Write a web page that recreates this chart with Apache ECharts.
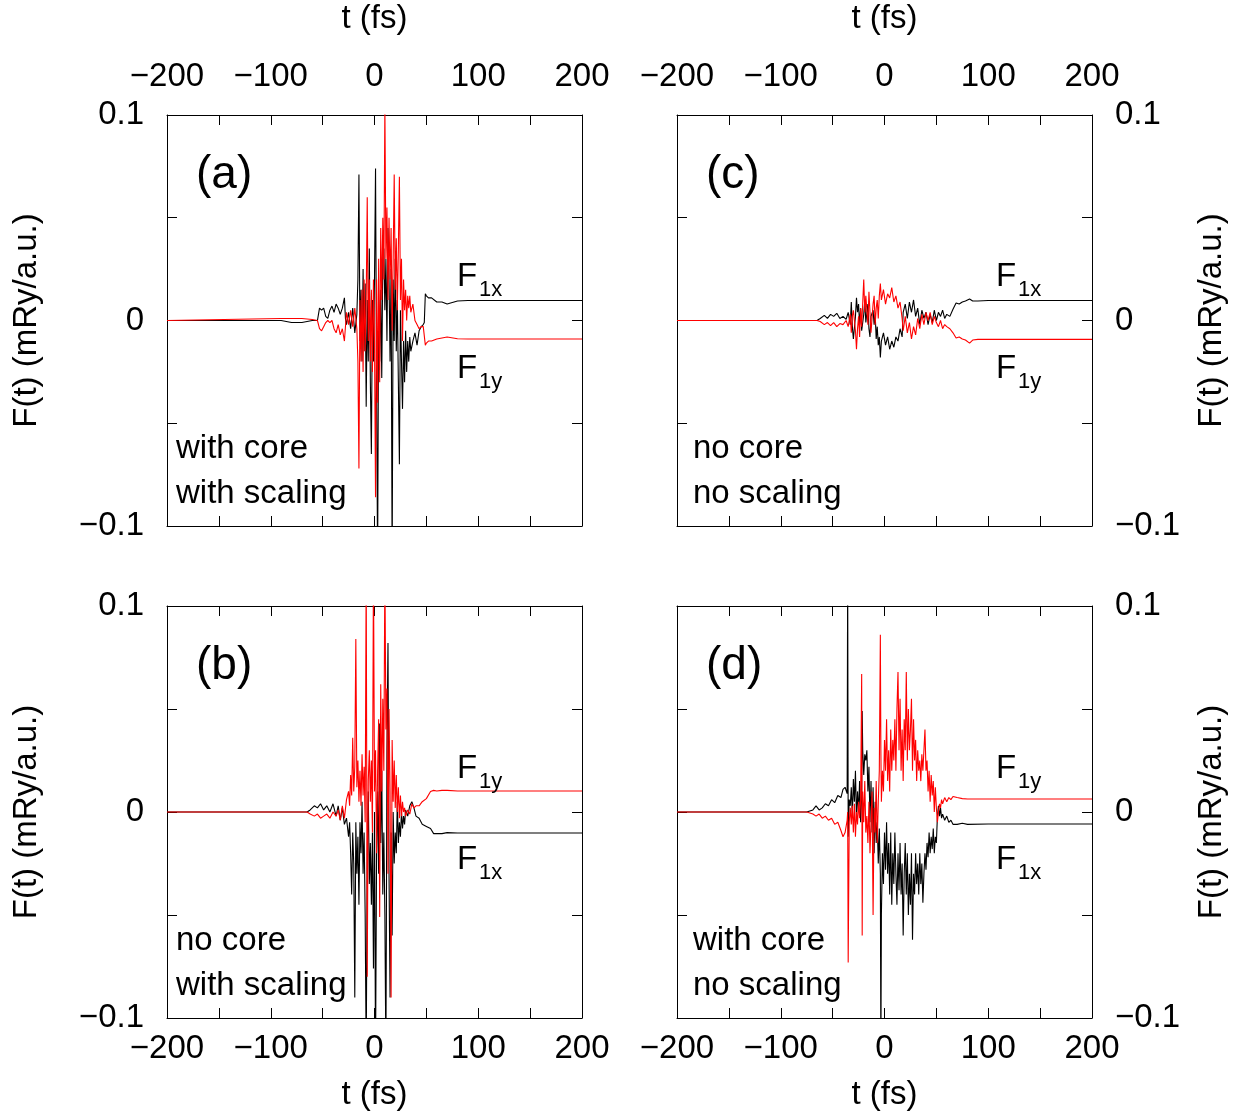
<!DOCTYPE html>
<html>
<head>
<meta charset="utf-8">
<script src="https://cdn.jsdelivr.net/npm/echarts@6/dist/echarts.min.js"></script>
<style>
html,body{margin:0;padding:0;background:#fff;}
#chart{width:1242px;height:1116px;}
</style>
</head>
<body>
<div id="chart"></div>
<script>
// ---------------- data (t in fs, F in mRy/a.u.) ----------------
const xTicks = [-200, -100, 0, 100, 200];
const yTicks = [-0.1, 0, 0.1];

// panel (a): with core, with scaling
const tA = [-200,-90,-80,-70,-60,-55,-53,-51,-49,-47,-45,-43,-41,-39,-37,-35,-33,-31,-29,-28,-27,-25,-23,-21,-19,-17,-16,-15,-14,-13,-12,-11,-10,-9,-8,-7,-6,-5,-4,-3,-2,-1,0,1,2,3,4,5,6,7,8,9,10,11,12,13,14,15,16,17,18,19,20,21,22,23,24,25,26,27,28,29,30,31,32,33,34,35,37,39,41,43,45,47,48,49,50,52,55,60,65,70,80,90,100,150,200];
const aF1x = [0,0,-0.001,-0.001,0, 0,0.006,0.005,0.006,0.002, 0.001,0.005,0.007,0.004,0.008, 0.006,0.003,0.006,0.011,0.001, -0.002,0.004,-0.004,0.006,-0.006, 0.003,0.02,0.071,-0.01,0.015, -0.02,0.025,-0.015,0.018,-0.042, 0.01,-0.02,0.035,-0.03,-0.065, 0.01,-0.02,0.02,0.074,-0.03, -0.12,0.01,-0.02,0.015,-0.028, 0.03,0.035,0.005,0.03,-0.01, 0.045,0.02,-0.02,0.025,-0.12, 0.02,-0.01,0.03,-0.015,0.01, -0.03,-0.07,0.005,-0.02,-0.043, -0.01,-0.03,-0.005,-0.025,-0.01, -0.02,-0.008,-0.015,-0.01,-0.006, -0.012,-0.005,-0.003,-0.002,-0.001, 0.013,0.012,0.011,0.011,0.009, 0.009,0.008,0.0095,0.0097,0.0097, 0.0097,0.0097];
const aF1y = [0,0.001,0.001,0.001,0.0005, 0,-0.004,-0.005,-0.003,-0.001, 0,-0.001,0,-0.004,-0.006, -0.002,-0.007,-0.004,-0.01,-0.003, 0.004,-0.002,0.005,-0.003,0.006, -0.004,-0.02,-0.072,0.01,-0.02, 0.015,-0.025,0.02,-0.015,0.01, 0.06,-0.01,0.02,-0.02,0.015, -0.025,0.02,-0.01,-0.086,0.02, -0.04,0.03,-0.03,0.045,0.01, 0.05,0.02,0.105,0.03,0.055, 0.01,0.05,0.02,0.045,-0.005, 0.03,0.071,0.015,0.04,0.005, 0.035,0.07,0.01,0.03,-0.01, 0.02,0.005,0.015,0,0.012, 0.006,0.012,0.004,0.008,0, -0.002,-0.004,-0.003,-0.003,-0.003, -0.012,-0.011,-0.01,-0.01,-0.009, -0.0085,-0.008,-0.0089,-0.009,-0.009, -0.009,-0.009];

// panel (c): no core, no scaling
const tC = [-200,-65,-62,-58,-55,-52,-49,-46,-43,-40,-37,-35,-33,-32,-31,-30,-28,-27,-26,-25,-24,-23,-22,-20,-19,-18,-16,-15,-14,-13,-11,-10,-9,-8,-7,-6,-5,-4,-3,-1,1,3,5,7,9,11,13,15,17,18,20,22,24,26,28,30,32,34,36,38,40,42,44,46,48,50,52,54,56,58,60,63,66,69,72,75,78,82,85,90,100,200];
const cF1x = [0,0,0.001,0.0025,0.001, 0.003,0.002,0.0035,0.001,0.002, 0.0005,0.004,-0.002,0.009,-0.003, -0.009,0.002,0.011,0.004,0.008, -0.002,0.006,-0.005,0.003,0.01, -0.001,0.008,-0.004,-0.008,0.002, 0.005,-0.002,0.003,-0.009,-0.003, -0.012,-0.008,-0.018,-0.01,-0.006, -0.012,-0.008,-0.014,-0.01,-0.013, -0.008,-0.01,-0.004,-0.008,0.004, 0.008,0.001,0.009,0.004,0.01, 0.002,0.006,-0.002,0.005,0.001, 0.004,-0.002,0.003,-0.001,0.005, 0,0.004,0.002,0.005,0.001, 0.003,0.002,0.0055,0.0085,0.008, 0.009,0.0095,0.0105,0.0095,0.0095, 0.0097,0.0097];
const cF1y = [0,0,-0.0005,-0.002,-0.001, -0.0025,-0.001,-0.003,-0.0015,-0.002, 0,-0.003,0.003,-0.006,0.002, 0.005,-0.005,-0.014,-0.004,0.002, -0.008,0.006,-0.003,0.02,0.004, 0.012,-0.002,0.014,0.004,-0.006, 0.008,0.012,-0.002,0.006,0.01, 0.001,0.012,0.018,0.01,0.015, 0.008,0.013,0.011,0.016,0.009, 0.012,0.006,0.009,0.001,-0.005, 0.002,-0.006,-0.001,-0.009,-0.003, -0.007,0.001,-0.004,0.003,-0.002, 0.004,0,0.004,-0.002,0.002, -0.001,-0.003,0,-0.004,-0.002, -0.003,-0.004,-0.006,-0.0085,-0.008, -0.009,-0.0095,-0.011,-0.0095,-0.0092, -0.0092,-0.0092];

// panel (b): no core, with scaling
const tB = [-200,-65,-62,-58,-55,-52,-49,-46,-43,-40,-37,-35,-33,-31,-29,-27,-25,-24,-23,-22,-21,-20,-19,-18,-17,-16,-15,-14,-13,-12,-11,-10,-9,-8,-7,-6,-5,-4,-3,-2,-1,0,1,2,3,4,5,6,7,8,9,10,11,12,13,14,15,16,17,18,19,20,21,22,23,24,25,26,27,28,29,30,32,34,36,38,40,43,46,50,54,57,60,65,70,80,100,130,200];
const bF1x = [0,0,0.001,0.003,0.002, 0.004,0.001,0.003,0,0.004, -0.002,0.003,-0.004,0.002,-0.006, -0.003,-0.012,-0.005,-0.02,-0.04, -0.01,-0.025,-0.09,-0.005,-0.03, -0.012,-0.045,-0.005,-0.02,0.005, -0.03,-0.01,-0.05,-0.12,-0.02, 0.01,-0.035,-0.015,-0.045,-0.01, -0.076,0,-0.12,-0.02,0.01, -0.03,0.043,-0.015,0.02,-0.04, -0.01,-0.05,-0.12,0.03,0.082, -0.03,-0.09,-0.01,-0.06,0, -0.025,-0.01,-0.02,0.005,-0.015, -0.005,-0.012,0,-0.008,-0.002, -0.006,0.001,-0.002,0.003,0.005, 0.002,-0.002,-0.003,-0.006,-0.007, -0.008,-0.0105,-0.0105,-0.0105,-0.01, -0.0102,-0.0102,-0.0102,-0.0102];
const bF1y = [0,0,-0.001,-0.002,-0.001, -0.003,-0.002,-0.001,-0.003,0, -0.002,0.001,-0.004,0.003,-0.003, 0.006,0.01,0.003,0.018,0.008, 0.036,0.01,0.022,0.084,0.012, 0.025,0.005,0.02,0.003,0.028, 0.008,0.022,-0.005,0.12,-0.08, 0.015,0.03,0.005,0.025,-0.01, 0.12,0.01,0.03,-0.02,0.02, 0.045,-0.051,0.062,0.01,0.055, 0.02,0.12,0.04,0.06,-0.03, 0.05,0.01,-0.09,0.035,0.005, 0.025,0.002,0.018,0,0.012, -0.003,0.008,-0.002,0.005,0, 0.002,-0.002,0.001,-0.001,0.004, 0.002,0.003,0.003,0.005,0.0065, 0.01,0.0105,0.0102,0.0105,0.0105, 0.0102,0.0102,0.0102,0.0102];

// panel (d): with core, no scaling
const tD = [-200,-75,-72,-69,-66,-63,-60,-57,-54,-51,-48,-45,-42,-40,-38,-36,-35.5,-35,-34,-33,-32,-31,-30,-29,-28,-27,-26,-25,-24,-23,-22,-21.5,-21,-20,-19,-18,-17,-16,-15,-14,-13,-12,-11,-10,-9,-8,-7,-6,-5,-4,-3.5,-3,-2,-1,0,1,2,3,4,5,6,7,8,9,10,11,12,13,14,15,16,17,18,19,20,21,22,23,24,25,26,27,28,29,30,31,32,33,34,35,36,37,38,39,40,41,42,43,44,45,46,47,48,49,50,51,52,53,54,55,56,58,60,62,64,66,70,75,80,100,200];
const dF1x = [0,0,0.0005,0.001,0.003, 0.001,0.002,0.004,0.003,0.006, 0.0045,0.008,0.007,0.011,0.012, 0.009,0.12,-0.012,0.006,0.003, 0.012,-0.002,0.016,0.005,0.02, -0.003,0.01,0,0.015,-0.005, 0.008,0.049,0.03,0.018,0.028, 0.025,0.03,0.01,0.022,-0.005, 0.015,-0.01,0.012,-0.02,0.005, -0.015,-0.005,-0.025,-0.008,-0.03, -0.12,-0.05,-0.02,-0.035,-0.01, -0.028,-0.005,-0.03,-0.015,-0.04, -0.01,-0.045,-0.02,-0.035,-0.01, -0.03,-0.045,-0.02,-0.038,-0.015, -0.04,-0.025,-0.06,-0.03,-0.015, -0.04,-0.02,-0.05,-0.03,-0.045, -0.02,-0.062,-0.03,-0.04,-0.02, -0.035,-0.025,-0.04,-0.02,-0.035, -0.025,-0.044,-0.03,-0.02,-0.028, -0.015,-0.022,-0.01,-0.02,-0.012, -0.018,-0.008,-0.02,-0.012,-0.015, -0.002,0.003,-0.002,0.002,-0.003, -0.001,-0.004,-0.002,-0.005,-0.004, -0.006,-0.006,-0.0055,-0.006,-0.0058, -0.0058];
const dF1y = [0,0,-0.0005,-0.001,-0.002, -0.001,-0.003,-0.002,-0.004,-0.003, -0.006,-0.005,-0.009,-0.012,-0.01, -0.004,0,-0.073,-0.005,0.002, -0.006,0.003,-0.01,0.004,-0.012, 0,-0.006,0.005,-0.003,0.006, 0.067,-0.06,0.01,-0.005,0.015, -0.01,-0.002,-0.015,0.005,-0.02, -0.005,0.01,-0.05,0.002,-0.01, 0.015,-0.015,0.005,0.02,0.086, 0.03,0.005,0.02,0.01,0.035, 0.02,0.045,0.015,0.03,0.01, 0.04,0.02,0.035,0.025,0.045, 0.02,0.05,0.068,0.03,0.055, 0.02,0.04,0.015,0.045,0.03, 0.068,0.025,0.05,0.03,0.04, 0.055,0.02,0.045,0.025,0.035, 0.015,0.03,0.02,0.025,0.015, 0.028,0.02,0.03,0.04,0.02, 0.025,0.01,0.02,0.005,0.018, 0.008,0.015,0,0.012,0.002, -0.005,0,0.004,0.002,0.006, 0.004,0.007,0.005,0.007,0.006, 0.0075,0.007,0.0065,0.0063,0.0063, 0.0063];

// ---------------- chart ----------------
const FONT = '"Liberation Sans", Arial, Helvetica, sans-serif';
const FS = 33;
const MINUS = '\u2212';

function near(a, b) { return Math.abs(a - b) < 1e-9; }
function xFmt(v) {
  for (const t of xTicks) if (near(v, t)) return t < 0 ? MINUS + Math.abs(t) : String(t);
  return '';
}
function yFmt(v) {
  for (const t of yTicks) if (near(v, t)) return t < 0 ? MINUS + String(Math.abs(t)) : String(t);
  return '';
}

const panels = [
  { left: 167, top: 115, height: 411, t: tA, fx: aF1x, fy: aF1y, topLab: true,  botLab: false, leftLab: true,  rightLab: false },
  { left: 677, top: 115, height: 411, t: tC, fx: cF1x, fy: cF1y, topLab: true,  botLab: false, leftLab: false, rightLab: true },
  { left: 167, top: 606, height: 412, t: tB, fx: bF1x, fy: bF1y, topLab: false, botLab: true,  leftLab: true,  rightLab: false },
  { left: 677, top: 606, height: 412, t: tD, fx: dF1x, fy: dF1y, topLab: false, botLab: true,  leftLab: false, rightLab: true }
];

const grids = [], xAxes = [], yAxes = [], series = [];
const lineAx = { show: true, onZero: false, lineStyle: { color: '#000', width: 1 } };
const tickAx = { show: true, inside: true, length: 10, lineStyle: { color: '#000', width: 1 } };
const nameStyle = { fontSize: FS, color: '#000', fontFamily: FONT };

panels.forEach((p, i) => {
  grids.push({ left: p.left, top: p.top, width: 415, height: p.height, containLabel: false });
  ['bottom', 'top'].forEach(pos => {
    const lab = pos === 'bottom' ? p.botLab : p.topLab;
    xAxes.push({
      type: 'value', gridIndex: i, position: pos, min: -200, max: 200, interval: 50,
      axisLine: lineAx, axisTick: tickAx, splitLine: { show: false },
      axisLabel: { show: lab, formatter: xFmt, fontSize: FS, color: '#000', fontFamily: FONT,
                   margin: pos === 'bottom' ? 14 : 22, hideOverlap: false, showMinLabel: true, showMaxLabel: true },
      name: lab ? 't (fs)' : '', nameLocation: 'middle', nameGap: pos === 'bottom' ? 60 : 80,
      nameTextStyle: nameStyle
    });
  });
  ['left', 'right'].forEach(pos => {
    const lab = pos === 'left' ? p.leftLab : p.rightLab;
    yAxes.push({
      type: 'value', gridIndex: i, position: pos, min: -0.1, max: 0.1, interval: 0.05,
      axisLine: lineAx, axisTick: tickAx, splitLine: { show: false },
      axisLabel: { show: lab, formatter: yFmt, fontSize: FS, color: '#000', fontFamily: FONT,
                   margin: 23, padding: [5, 0, 0, 0], showMinLabel: true, showMaxLabel: true },
      name: lab ? 'F(t) (mRy/a.u.)' : '', nameLocation: 'middle', nameRotate: 90,
      nameGap: pos === 'left' ? 124 : 103, nameTextStyle: nameStyle
    });
  });
  series.push({
    type: 'line', xAxisIndex: 2 * i, yAxisIndex: 2 * i, showSymbol: false, clip: true,
    lineStyle: { color: '#000', width: 1.1 }, data: p.t.map((t, k) => [t, p.fx[k]]), z: 2
  });
  series.push({
    type: 'line', xAxisIndex: 2 * i, yAxisIndex: 2 * i, showSymbol: false, clip: true,
    lineStyle: { color: '#ff0000', width: 1.1 }, data: p.t.map((t, k) => [t, p.fy[k]]), z: 3
  });
});

// annotation texts
const graphic = [];
function txt(s, x, y, size) {
  graphic.push({ type: 'text', left: x, top: y, z: 10,
    style: { text: s, font: size + 'px ' + FONT, fill: '#000' } });
}
// panel letters
txt('(a)', 196, 152, 46); txt('(c)', 706, 152, 46);
txt('(b)', 196, 643, 46); txt('(d)', 706, 643, 46);
// condition labels
txt('with core', 176, 432, FS); txt('with scaling', 176, 477, FS);
txt('no core', 693, 432, FS); txt('no scaling', 693, 477, FS);
txt('no core', 176, 924, FS); txt('with scaling', 176, 969, FS);
txt('with core', 693, 924, FS); txt('no scaling', 693, 969, FS);
// component labels
function flab(sub, x, y) { txt('F', x, y, FS); txt(sub, x + 22, y + 19, 22); }
flab('1x', 457, 260); flab('1y', 457, 352);
flab('1x', 996, 260); flab('1y', 996, 352);
flab('1y', 457, 752); flab('1x', 457, 843);
flab('1y', 996, 752); flab('1x', 996, 843);

const chart = echarts.init(document.getElementById('chart'), null, { renderer: 'canvas' });
chart.setOption({
  animation: false,
  backgroundColor: '#fff',
  grid: grids, xAxis: xAxes, yAxis: yAxes, series: series, graphic: graphic
});
</script>
</body>
</html>
